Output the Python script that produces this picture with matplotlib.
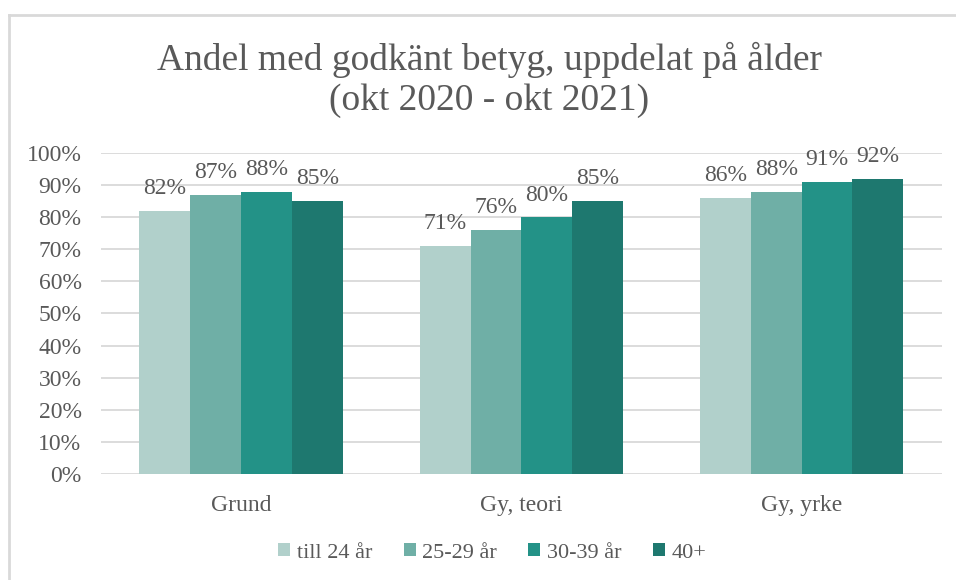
import numpy as np
import matplotlib.pyplot as plt
from matplotlib.lines import Line2D
from matplotlib.ticker import PercentFormatter

# Share of passed grades per programme and age group
categories = ["Grund", "Gy, teori", "Gy, yrke"]
age_groups = ["till 24 år", "25-29 år", "30-39 år", "40+"]
till_24 = [82, 71, 86]
age_25_29 = [87, 76, 88]
age_30_39 = [88, 80, 91]
age_40 = [85, 85, 92]

series = [till_24, age_25_29, age_30_39, age_40]
colors = ["#b1d0cb", "#6fafa6", "#239287", "#1e786f"]

plt.rcParams["font.family"] = ["Liberation Serif", "DejaVu Serif"]
text_color = "#595959"

fig = plt.figure(figsize=(9.56, 5.8), dpi=100)
ax = fig.add_axes([0.1056, 0.1828, 0.8794, 0.5534])

x = np.arange(len(categories))
width = 0.725 / len(series)
for i, (vals, col, name) in enumerate(zip(series, colors, age_groups)):
    pos = x + (i - 1.5) * width
    bars = ax.bar(pos, vals, width, color=col, label=name, zorder=2)
    for b, v in zip(bars, vals):
        ax.annotate(f"{v}%", (b.get_x() + b.get_width() / 2, v),
                    xytext=(0, 12), textcoords="offset points",
                    ha="center", va="baseline", fontsize=17, color=text_color)

ax.set_xlim(-0.5, len(categories) - 0.5)
ax.set_ylim(0, 100)
ax.set_yticks(range(0, 101, 10))
ax.yaxis.set_major_formatter(PercentFormatter(decimals=0))
ax.set_xticks(x)
ax.set_xticklabels(categories)
ax.tick_params(axis="both", length=0, labelsize=17, labelcolor=text_color)
ax.tick_params(axis="x", pad=15)
ax.tick_params(axis="y", pad=14)
ax.grid(axis="y", color="#d9d9d9", linewidth=1.3, zorder=0)
for s in ax.spines.values():
    s.set_visible(False)

fig.text(0.512, 0.862, "Andel med godkänt betyg, uppdelat på ålder\n(okt 2020 - okt 2021)",
         ha="center", va="center", fontsize=27, color=text_color, linespacing=1.2)

leg = fig.legend(loc="center", bbox_to_anchor=(0.515, 0.047), ncol=4, frameon=False,
                 fontsize=16, handlelength=0.55, handleheight=0.55, handletextpad=0.3,
                 columnspacing=1.4, labelcolor=text_color)

# Outer chart frame (left and top edges)
fig.add_artist(Line2D([0.0094, 0.0094], [0, 0.974], color="#d9d9d9", linewidth=2,
                      transform=fig.transFigure))
fig.add_artist(Line2D([0.0094, 1], [0.974, 0.974], color="#d9d9d9", linewidth=2,
                      transform=fig.transFigure))

fig.savefig("out.png", dpi=100)
